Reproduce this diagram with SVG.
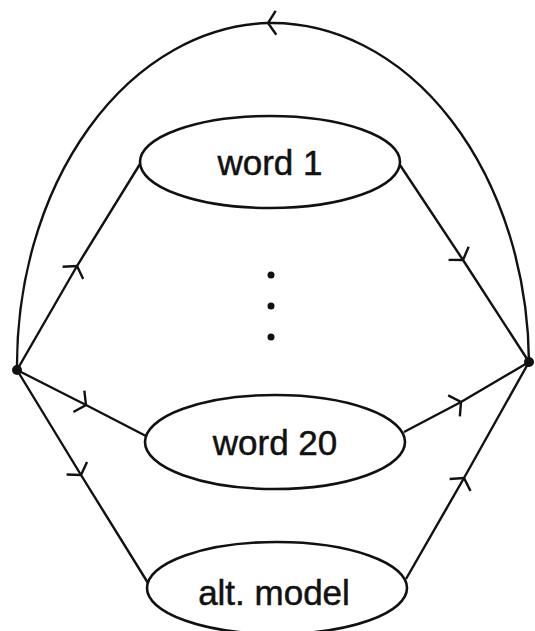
<svg xmlns="http://www.w3.org/2000/svg" width="535" height="631" viewBox="0 0 535 631">
<style>
.edge{fill:none;stroke:#111;stroke-width:2.4;marker-mid:url(#barb)}
.node ellipse{fill:#fff;stroke:#111;stroke-width:2.6}
.node text{font-family:"Liberation Sans",Arial,sans-serif;font-size:35px;fill:#111;text-anchor:middle;stroke:#111;stroke-width:0.5}
.dot{fill:#111}
</style>
<defs>
<marker id="barb" markerUnits="userSpaceOnUse" markerWidth="30" markerHeight="30" refX="15" refY="15" viewBox="0 0 30 30" orient="auto" overflow="visible">
<path d="M7,3 L15,15 L7,27" fill="none" stroke="#111" stroke-width="2.4"/>
</marker>
</defs>
<rect width="535" height="631" fill="#fff"/>
<g id="connectors">
<path class="edge" d="M529,362 A257,343 0 0 0 268,23 A257,343 0 0 0 17,370"/>
<path class="edge" d="M17,370 L77,266 L140,164"/>
<path class="edge" d="M398,162 L463,260 L529,362"/>
<path class="edge" d="M17,370 L86,405 L146,436"/>
<path class="edge" d="M404,432 L461,402 L529,362"/>
<path class="edge" d="M17,370 L81,475 L148,583"/>
<path class="edge" d="M406,579 L464,478 L529,362"/>
</g>
<g id="source"><circle class="dot" cx="17" cy="370" r="5"/></g>
<g id="sink"><circle class="dot" cx="529" cy="362" r="5"/></g>
<g id="word1" class="node"><ellipse cx="270" cy="162" rx="130" ry="46"/><text x="270" y="175">word 1</text></g>
<g id="ellipsis"><circle class="dot" cx="271" cy="275" r="3.5"/><circle class="dot" cx="271" cy="306" r="3.5"/><circle class="dot" cx="271" cy="337" r="3.5"/></g>
<g id="word20" class="node"><ellipse cx="275" cy="442" rx="130" ry="47"/><text x="275" y="455">word 20</text></g>
<g id="altmodel" class="node"><ellipse cx="277" cy="588" rx="130" ry="46"/><text x="274" y="605">alt. model</text></g>
</svg>
